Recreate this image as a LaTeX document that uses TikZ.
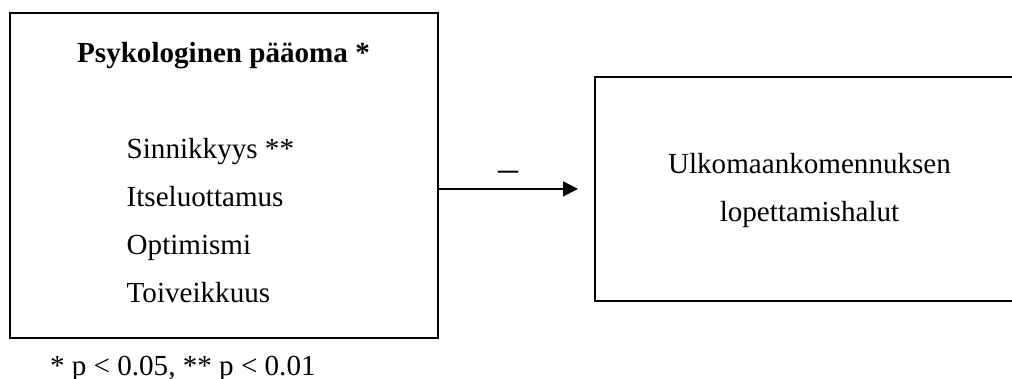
\documentclass[tikz,border=0pt]{standalone}
\usepackage{fontspec}
\setmainfont{Liberation Serif}
\usetikzlibrary{arrows.meta}

\begin{document}
\begin{tikzpicture}[x=0.5pt, y=-0.5pt,
  every node/.style={inner sep=0pt, outer sep=0pt},
  txt/.style={font=\fontsize{14.55}{17}\selectfont},
  frame/.style={draw=black, line width=1pt, fill=none},
  link/.style={draw=black, line width=0.75pt, -{Triangle[length=7.5pt, width=7.5pt]}}]
  \useasboundingbox (0,0) rectangle (1012,379);
  \clip (0,0) rectangle (1012,379);

  % predictor box
  \node[frame, minimum width=214pt, minimum height=162.25pt] (L) at (223.5,175.75) {};
  \node[txt, font=\fontsize{14.55}{17}\selectfont\bfseries, anchor=base] (title) at (223.5,63) {Psykologinen pääoma *};
  \node[txt, anchor=base west] (s1) at (126.7,158.5) {Sinnikkyys **};
  \node[txt, anchor=base west] (s2) at (126.7,206.5) {Itseluottamus};
  \node[txt, anchor=base west] (s3) at (126.7,254.5) {Optimismi};
  \node[txt, anchor=base west] (s4) at (126.7,302.5) {Toiveikkuus};

  % outcome box
  \node[frame, minimum width=212.5pt, minimum height=111.8pt] (R) at (807.5,188.9) {};
  \node[txt, anchor=base] (r1) at (809.5,174) {Ulkomaankomennuksen};
  \node[txt, anchor=base] (r2) at (809.5,221.7) {lopettamishalut};

  % negative effect
  \draw[link] (L.east |- R.west) -- ([xshift=-8.5pt]R.west);
  \node[font=\fontsize{20}{22}\selectfont, anchor=base] (sign) at (508,181.5) {–};

  % significance note
  \node[txt, anchor=base west] (note) at (50,375) {* p < 0.05, ** p < 0.01};
\end{tikzpicture}
\end{document}
